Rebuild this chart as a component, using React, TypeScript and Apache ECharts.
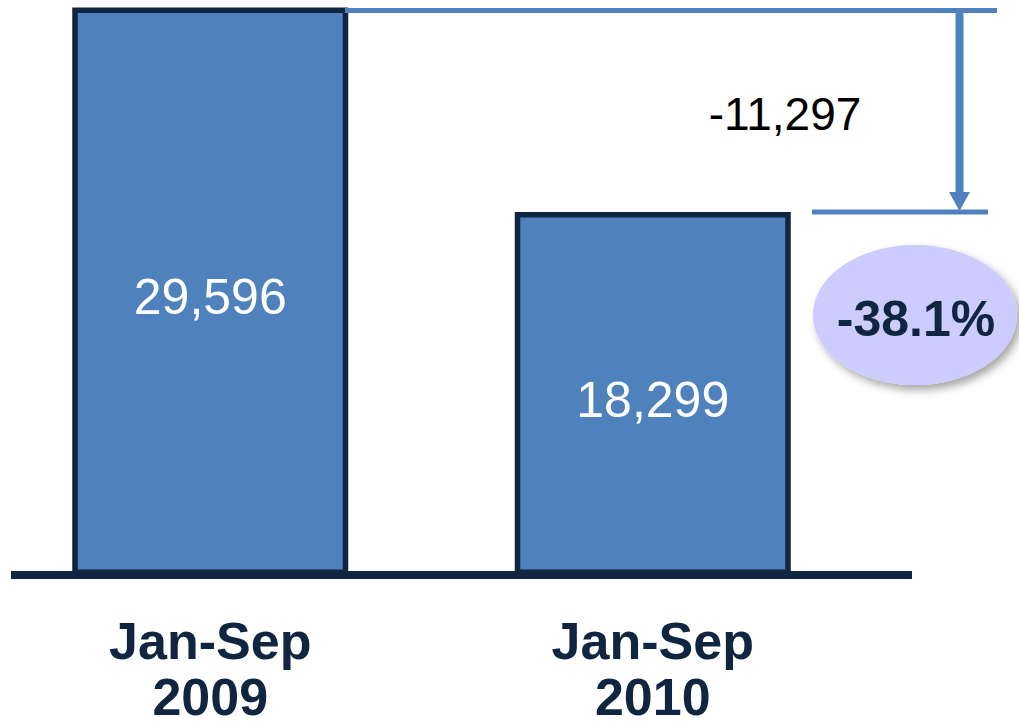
import React, { useEffect, useRef } from "react";
import * as echarts from "echarts";

const categories: string[] = ["Jan-Sep\n2009", "Jan-Sep\n2010"];
const values: number[] = [29596, 18299];
const differenceLabel = "-11,297";
const percentLabel = "-38.1%";
const axisMin = -1750;
const axisMax = 29596;

const NAVY = "#10253f";
const BLUE = "#4f81bd";
const FONT = "'Liberation Sans', Arial, Helvetica, sans-serif";

const fmt = (v: number) => v.toLocaleString("en-US");

export default function App() {
  const ref = useRef<HTMLDivElement>(null);
  useEffect(() => {
    if (!ref.current) return;
    const chart = echarts.init(ref.current, undefined, { renderer: "svg" });
    chart.setOption({
      animation: false,
      grid: {
        left: -11,
        right: 145,
        top: 7.5,
        bottom: 150,
        containLabel: false,
        outerBoundsMode: "none",
      },
      xAxis: {
        type: "category",
        data: categories,
        axisLine: { show: false },
        axisTick: { show: false },
        axisLabel: {
          color: NAVY,
          fontFamily: FONT,
          fontWeight: "bold",
          fontSize: 52,
          lineHeight: 56,
          margin: 38,
        },
      },
      yAxis: {
        type: "value",
        min: axisMin,
        max: axisMax,
        startValue: axisMin,
        show: false,
        splitLine: { show: false },
      },
      series: [
        {
          type: "bar",
          data: values,
          barWidth: 276,
          itemStyle: { color: BLUE, borderColor: NAVY, borderWidth: 5.5 },
          label: {
            show: true,
            position: "inside",
            offset: [0, 6],
            color: "#ffffff",
            fontFamily: FONT,
            fontSize: 50,
            formatter: (p: any) => fmt(p.value),
          },
        },
      ],
    } as any);

    const yTop1 = chart.convertToPixel({ yAxisIndex: 0 }, values[0]) as number;
    const yTop2 = chart.convertToPixel({ yAxisIndex: 0 }, values[1]) as number;
    const yBase = chart.convertToPixel({ yAxisIndex: 0 }, axisMin) as number;

    chart.setOption({
      graphic: [
        {
          type: "line",
          z: 100,
          shape: { x1: 11, y1: yBase, x2: 912, y2: yBase },
          style: { stroke: NAVY, lineWidth: 8 },
        },
        {
          type: "line",
          z: 100,
          shape: { x1: 345, y1: yTop1 + 3, x2: 997, y2: yTop1 + 3 },
          style: { stroke: BLUE, lineWidth: 5 },
        },
        {
          type: "line",
          z: 100,
          shape: { x1: 812, y1: yTop2, x2: 988, y2: yTop2 },
          style: { stroke: BLUE, lineWidth: 5 },
        },
        {
          type: "line",
          z: 100,
          shape: { x1: 959.5, y1: yTop1 + 3, x2: 959.5, y2: yTop2 - 18 },
          style: { stroke: BLUE, lineWidth: 8 },
        },
        {
          type: "polygon",
          z: 100,
          shape: {
            points: [
              [949, yTop2 - 20],
              [970, yTop2 - 20],
              [959.5, yTop2 - 1],
            ],
          },
          style: { fill: BLUE },
        },
        {
          type: "text",
          z: 100,
          x: 785,
          y: 114,
          style: {
            text: differenceLabel,
            fill: "#000000",
            font: `46px ${FONT}`,
            align: "center",
            verticalAlign: "middle",
          },
        },
        {
          type: "ellipse",
          z: 100,
          shape: { cx: 915, cy: 315, rx: 102, ry: 70 },
          style: {
            fill: "#ccccff",
            shadowBlur: 8,
            shadowOffsetX: 4,
            shadowOffsetY: 5,
            shadowColor: "rgba(0,0,0,0.35)",
          },
        },
        {
          type: "text",
          z: 101,
          x: 916,
          y: 319,
          style: {
            text: percentLabel,
            fill: NAVY,
            font: `bold 50px ${FONT}`,
            align: "center",
            verticalAlign: "middle",
          },
        },
      ],
    } as any);

    return () => chart.dispose();
  }, []);
  return <div ref={ref} style={{ width: 1019, height: 725, position: "absolute", left: 0, top: 0 }} />;
}
